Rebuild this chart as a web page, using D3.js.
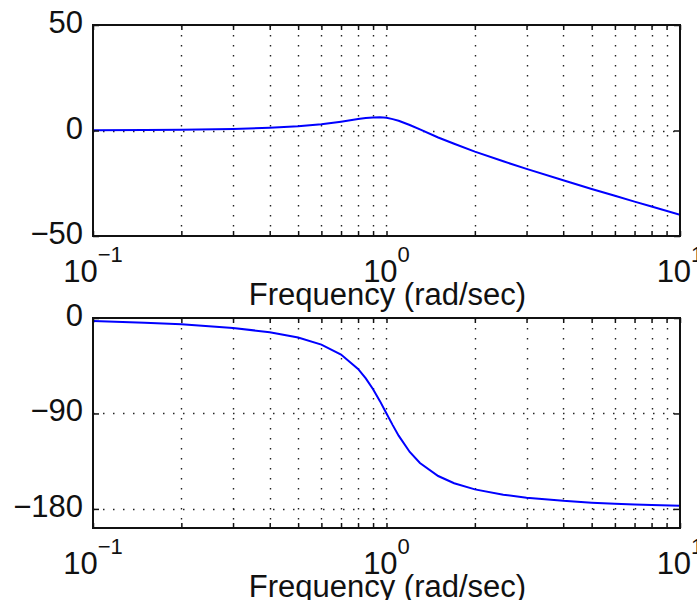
<!DOCTYPE html>
<html>
<head>
<meta charset="utf-8">
<script src="https://cdn.jsdelivr.net/npm/d3@7"></script>
<style>
  body { margin: 0; background: #fff; }
  text { font-family: "Liberation Sans", Arial, sans-serif; fill: #111; }
</style>
</head>
<body>
<div id="chart"></div>
<script>
// frequencies (rad/sec)
const freq = [0.1, 0.15, 0.2, 0.3, 0.4, 0.5, 0.6, 0.7, 0.8, 0.85, 0.9, 0.95, 1.0,
  1.05, 1.1, 1.2, 1.3, 1.5, 1.7, 2, 2.5, 3, 4, 5, 6, 7, 8, 10];
// magnitude in dB
const magDb = [0.1, 0.2, 0.3, 0.7, 1.3, 2.0, 3.0, 4.2, 5.4, 5.9, 6.2, 6.3, 6.0,
  5.4, 4.6, 2.6, 0.5, -3.3, -6.3, -10.0, -14.6, -18.2, -23.6, -27.7, -30.9, -33.7, -36.0, -39.9];
// phase in degrees
const phaseDeg = [-2.9, -4.4, -5.9, -9.4, -13.4, -18.4, -25.1, -34.5, -48.0, -56.9, -67.1, -78.4, -90,
  -101.0, -110.9, -126.3, -136.7, -149.0, -155.8, -161.6, -166.6, -169.4, -172.4, -174.1, -175.1, -175.8, -176.4, -177.1];

const xDecades = [-1, 0, 1];
const magTicks = [50, 0, -50];
const phaseTicks = [0, -90, -180];

const W = 697, H = 600;
const left = 93, right = 680;

const svg = d3.select("#chart").append("svg")
  .attr("width", W).attr("height", H);
svg.append("rect").attr("width", W).attr("height", H).attr("fill", "#fff");

const x = d3.scaleLog().domain([0.1, 10]).range([left, right]);

// minor + major grid positions
const gridX = [];
[0.1, 1].forEach(b => { for (let k = 1; k <= 9; k++) gridX.push(b * k); });
gridX.push(10);

function drawPanel(top, bottom, yDomain, yTicks, gridY, data, id) {
  const y = d3.scaleLinear().domain(yDomain).range([bottom, top]);
  const g = svg.append("g");

  g.append("clipPath").attr("id", id)
    .append("rect").attr("x", left).attr("y", top)
    .attr("width", right - left).attr("height", bottom - top);

  // dotted grid
  g.selectAll(".vg").data(gridX.filter(d => d > 0.1 && d < 10)).enter()
    .append("line")
    .attr("x1", d => Math.round(x(d)) + 0.5).attr("x2", d => Math.round(x(d)) + 0.5)
    .attr("y1", top).attr("y2", bottom)
    .attr("stroke", "#222").attr("stroke-width", 1.4)
    .attr("stroke-dasharray", "1.5,8.5");
  g.selectAll(".hg").data(gridY).enter()
    .append("line")
    .attr("x1", left).attr("x2", right)
    .attr("y1", d => Math.round(y(d)) + 0.5).attr("y2", d => Math.round(y(d)) + 0.5)
    .attr("stroke", "#222").attr("stroke-width", 1.4)
    .attr("stroke-dasharray", "1.5,8.5");

  // curve
  const line = d3.line()
    .x((d, i) => x(freq[i]))
    .y(d => y(d));
  g.append("path")
    .datum(data)
    .attr("clip-path", "url(#" + id + ")")
    .attr("fill", "none")
    .attr("stroke", "#0000ff")
    .attr("stroke-width", 2)
    .attr("d", line);

  // axes with inward ticks
  g.append("g").attr("transform", "translate(0," + bottom + ")")
    .call(d3.axisBottom(x).tickValues(gridX).tickSize(-5).tickFormat(""))
    .call(a => a.select(".domain").remove());
  g.append("g").attr("transform", "translate(0," + top + ")")
    .call(d3.axisTop(x).tickValues(gridX).tickSize(-5).tickFormat(""))
    .call(a => a.select(".domain").remove());
  g.append("g").attr("transform", "translate(" + left + ",0)")
    .call(d3.axisLeft(y).tickValues(yTicks).tickSize(-6).tickFormat(""))
    .call(a => a.select(".domain").remove());
  g.append("g").attr("transform", "translate(" + right + ",0)")
    .call(d3.axisRight(y).tickValues(yTicks).tickSize(-6).tickFormat(""))
    .call(a => a.select(".domain").remove());
  g.selectAll(".tick line").attr("stroke", "#111").attr("stroke-width", 1.5);

  g.append("rect")
    .attr("x", left).attr("y", top)
    .attr("width", right - left).attr("height", bottom - top)
    .attr("fill", "none").attr("stroke", "#111").attr("stroke-width", 2);

  // y tick labels
  g.selectAll(".yl").data(yTicks).enter()
    .append("text")
    .attr("x", left - 10)
    .attr("y", d => y(d) + 8)
    .attr("text-anchor", "end")
    .style("font-size", "31px")
    .text(d => d < 0 ? "\u2212" + Math.abs(d) : d);

  // x tick labels 10^n
  const xl = g.selectAll(".xl").data(xDecades).enter()
    .append("text")
    .attr("x", d => x(Math.pow(10, d)))
    .attr("y", bottom + 46)
    .attr("text-anchor", "middle")
    .style("font-size", "31px");
  xl.append("tspan").text("10");
  xl.append("tspan").attr("dy", -20).style("font-size", "22px")
    .text(d => d < 0 ? "\u2212" + Math.abs(d) : d);

  g.append("text")
    .attr("x", (left + right) / 2 + 1)
    .attr("y", bottom + 69)
    .attr("text-anchor", "middle")
    .style("font-size", "31px")
    .text("Frequency (rad/sec)");
}

drawPanel(25, 236, [-50, 50], magTicks, [0], magDb, "c1");
drawPanel(318, 528, [-198, 0], phaseTicks, [-90, -180], phaseDeg, "c2");
</script>
</body>
</html>
